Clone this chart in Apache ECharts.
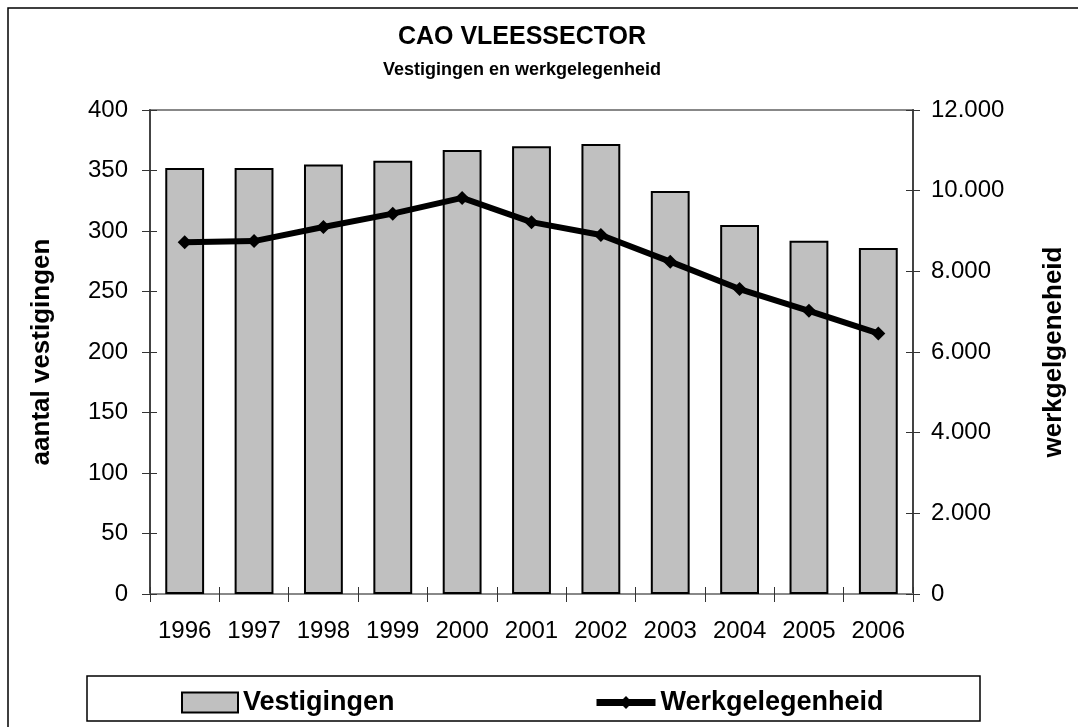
<!DOCTYPE html>
<html>
<head>
<meta charset="utf-8">
<script src="https://cdn.jsdelivr.net/npm/echarts@6/dist/echarts.min.js"></script>
<style>
  html, body { margin: 0; padding: 0; background: #fff; }
  #chart { width: 1078px; height: 727px; }
</style>
</head>
<body>
<div id="chart"></div>
<script>
// data
const jaren = ['1996', '1997', '1998', '1999', '2000', '2001', '2002', '2003', '2004', '2005', '2006']
const vestigingen = [352, 352, 355, 358, 367, 370, 372, 333, 305, 292, 286]
const werkgelegenheid = [8720, 8750, 9100, 9430, 9820, 9220, 8900, 8240, 7560, 7020, 6460]

const font = 'Arial, "Liberation Sans", sans-serif'
const chart = echarts.init(document.getElementById('chart'))

// thousands with a dot, like 12.000
const fmtDot = v => v === 0 ? '0' : String(v).replace(/\B(?=(\d{3})+(?!\d))/g, '.')

// extra axes only to draw the inner half of the crossing ticks
const innerTicks = { show: true, inside: true, length: 7, lineStyle: { color: '#333' } }

const option = {
  animation: false,
  backgroundColor: '#fff',
  textStyle: { fontFamily: font, color: '#000' },
  title: [
    {
      text: 'CAO VLEESSECTOR',
      left: 517, top: 20, textAlign: 'center',
      textStyle: { fontSize: 25, fontWeight: 'bold', color: '#000', fontFamily: font }
    },
    {
      text: 'Vestigingen en werkgelegenheid',
      left: 517, top: 56, textAlign: 'center',
      textStyle: { fontSize: 18, fontWeight: 'bold', color: '#000', fontFamily: font }
    }
  ],
  grid: {
    left: 150, right: 165, top: 110, bottom: 133,
    show: true, borderColor: '#888', borderWidth: 2, backgroundColor: 'transparent'
  },
  legend: [
    {
      data: ['Vestigingen'], left: 176, top: 684,
      icon: 'rect',
      itemWidth: 56, itemHeight: 20, itemGap: 6,
      textStyle: { fontSize: 27, fontWeight: 'bold', color: '#000', fontFamily: font }
    },
    {
      data: ['Werkgelegenheid'], left: 588, top: 684,
      itemWidth: 59, itemHeight: 16, itemGap: 4,
      lineStyle: { width: 7 },
      textStyle: { fontSize: 27, fontWeight: 'bold', color: '#000', fontFamily: font }
    }
  ],
  xAxis: [
    {
      type: 'category',
      data: jaren,
      position: 'bottom',
      axisLine: { lineStyle: { color: '#888', width: 2 } },
      axisTick: { show: true, length: 8, lineStyle: { color: '#333' } },
      axisLabel: { interval: 0, fontSize: 24, color: '#000', margin: 25, fontFamily: font }
    },
    {
      type: 'category',
      data: jaren,
      position: 'bottom',
      axisLine: { show: false },
      axisTick: innerTicks,
      axisLabel: { show: false }
    }
  ],
  yAxis: [
    {
      type: 'value', min: 0, max: 400, interval: 50,
      name: 'aantal vestigingen', nameLocation: 'middle', nameGap: 95,
      nameTextStyle: { fontSize: 26, fontWeight: 'bold', color: '#000', fontFamily: font },
      axisLine: { show: true, lineStyle: { color: '#444', width: 2 } },
      axisTick: { show: true, length: 8, lineStyle: { color: '#333' } },
      axisLabel: { fontSize: 24, color: '#000', margin: 22, fontFamily: font },
      splitLine: { show: false }
    },
    {
      type: 'value', min: 0, max: 12000, interval: 2000,
      name: 'werkgelgeneheid', nameLocation: 'middle', nameGap: 128,
      nameRotate: 90,
      nameTextStyle: { fontSize: 26, fontWeight: 'bold', color: '#000', fontFamily: font },
      axisLine: { show: true, lineStyle: { color: '#444', width: 2 } },
      axisTick: { show: true, length: 7, lineStyle: { color: '#333' } },
      axisLabel: { fontSize: 24, color: '#000', margin: 18, fontFamily: font, formatter: fmtDot },
      splitLine: { show: false }
    },
    {
      type: 'value', min: 0, max: 400, interval: 50, position: 'left',
      axisLine: { show: false }, axisTick: innerTicks,
      axisLabel: { show: false }, splitLine: { show: false }
    },
    {
      type: 'value', min: 0, max: 12000, interval: 2000, position: 'right',
      axisLine: { show: false }, axisTick: innerTicks,
      axisLabel: { show: false }, splitLine: { show: false }
    }
  ],
  series: [
    {
      name: 'Vestigingen',
      type: 'bar',
      data: vestigingen,
      barWidth: '56%',
      itemStyle: { color: '#c0c0c0', borderColor: '#000', borderWidth: 2 }
    },
    {
      name: 'Werkgelegenheid',
      type: 'line',
      yAxisIndex: 1,
      data: werkgelegenheid,
      symbol: 'diamond',
      symbolSize: 14,
      lineStyle: { color: '#000', width: 6 },
      itemStyle: { color: '#000' }
    }
  ],
  graphic: [
    {
      type: 'rect', z: -1,
      shape: { x: 8, y: 8, width: 1100, height: 760 },
      style: { fill: 'none', stroke: '#000', lineWidth: 1.5 }
    },
    {
      type: 'rect', z: -1,
      shape: { x: 87, y: 676, width: 893, height: 45 },
      style: { fill: '#fff', stroke: '#000', lineWidth: 1.5 }
    }
  ]
}

chart.setOption(option)
</script>
</body>
</html>
